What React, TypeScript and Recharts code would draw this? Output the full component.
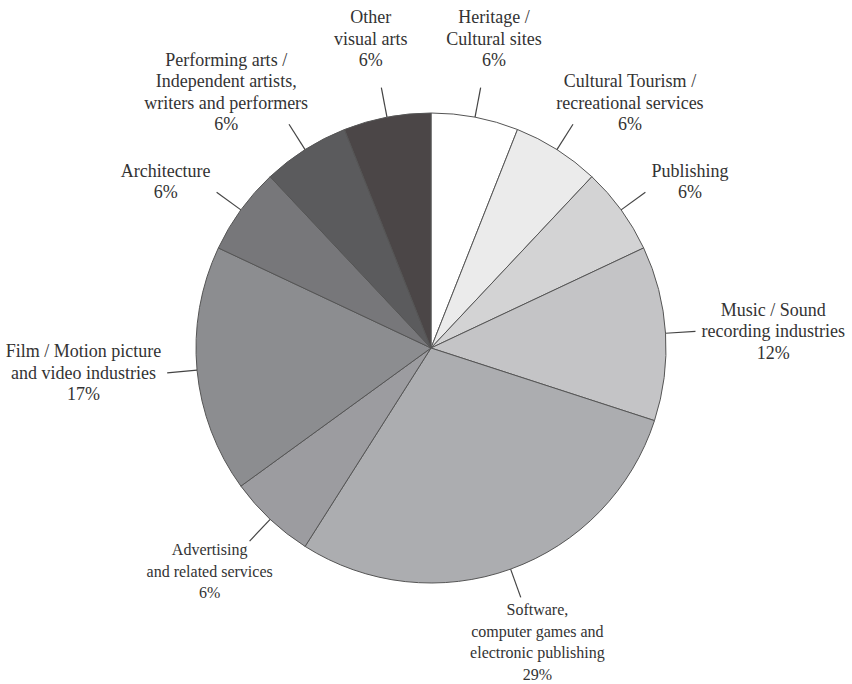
import React from 'react';
import { PieChart, Pie, Cell } from 'recharts';

const sectors = [
  'Heritage /\nCultural sites',
  'Cultural Tourism /\nrecreational services',
  'Publishing',
  'Music / Sound\nrecording industries',
  'Software,\ncomputer games and\nelectronic publishing',
  'Advertising\nand related services',
  'Film / Motion picture\nand video industries',
  'Architecture',
  'Performing arts /\nIndependent artists,\nwriters and performers',
  'Other\nvisual arts',
];
const shares = [6, 6, 6, 12, 29, 6, 17, 6, 6, 6];
const greys = ['#ffffff', '#ebebeb', '#d3d3d4', '#c4c4c6', '#acadb0', '#9c9ca0', '#8c8d90', '#77777a', '#5b5b5d', '#4b4647'];

const data = sectors.map((name, i) => ({ name, value: shares[i] }));

const RAD = Math.PI / 180;
const FONT_FAMILY = 'Liberation Serif, serif';
const LINE_H = 21.5;
const LEADER = 30;

let ctx: CanvasRenderingContext2D | null = null;
const measure = (s: string, size: number) => {
  if (!ctx) {
    ctx = document.createElement('canvas').getContext('2d');
  }
  if (!ctx) return s.length * size * 0.42;
  ctx.font = `${size}px ${FONT_FAMILY}`;
  return ctx.measureText(s).width;
};

const renderLabel = (props: any) => {
  const { cx, cy, midAngle, outerRadius, index } = props;
  const ux = Math.cos(-midAngle * RAD);
  const uy = Math.sin(-midAngle * RAD);
  const sx = cx + outerRadius * ux;
  const sy = cy + outerRadius * uy;
  const ex = cx + (outerRadius + LEADER) * ux;
  const ey = cy + (outerRadius + LEADER) * uy;

  // labels below the pie are set a little smaller in the source
  const size = uy > 0.3 ? 16 : 18;
  const lines = [...data[index].name.split('\n'), `${shares[index]}%`];
  const widths = lines.map((l) => measure(l, size));
  const blockW = Math.max(...widths);

  // which text line the leader points at
  const attach = uy < -0.3 ? lines.length - 1 : uy > 0.3 ? 0 : Math.floor(lines.length / 2);
  const k = Math.min(1, Math.max(0, (Math.abs(uy) - 0.88) / 0.12));
  let attachY = ey;
  if (uy < -0.3) attachY = ey - 32 * k;
  else if (uy > 0.3) attachY = ey + 8 + 8 * k;
  const top = attachY - LINE_H * (attach + 0.5);

  const wEff = uy > 0.3 ? widths[0] : blockW;
  const tx = ex + Math.sign(ux) * (wEff / 2 + 6) * Math.min(1, Math.abs(ux) / 0.75);

  return (
    <g>
      <line x1={sx} y1={sy} x2={ex} y2={ey} stroke="#444" strokeWidth={1.2} />
      <text
        x={tx}
        textAnchor="middle"
        dominantBaseline="central"
        style={{ fontFamily: FONT_FAMILY, fontSize: size }}
        fill="#333"
      >
        {lines.map((l, i) => (
          <tspan key={i} x={tx} y={top + LINE_H * (i + 0.5)}>
            {l}
          </tspan>
        ))}
      </text>
    </g>
  );
};

export default function App() {
  return (
    <div style={{ position: 'fixed', left: 0, top: 0, background: '#fff' }}>
      <PieChart width={852} height={684} margin={{ top: 0, right: 0, bottom: 0, left: 0 }}>
        <Pie
          data={data}
          dataKey="value"
          cx={431}
          cy={348}
          outerRadius={235}
          startAngle={90}
          endAngle={-270}
          label={renderLabel}
          labelLine={false}
          stroke="#555"
          strokeWidth={1}
          isAnimationActive={false}
        >
          {data.map((d, i) => (
            <Cell key={d.name} fill={greys[i]} />
          ))}
        </Pie>
      </PieChart>
    </div>
  );
}
